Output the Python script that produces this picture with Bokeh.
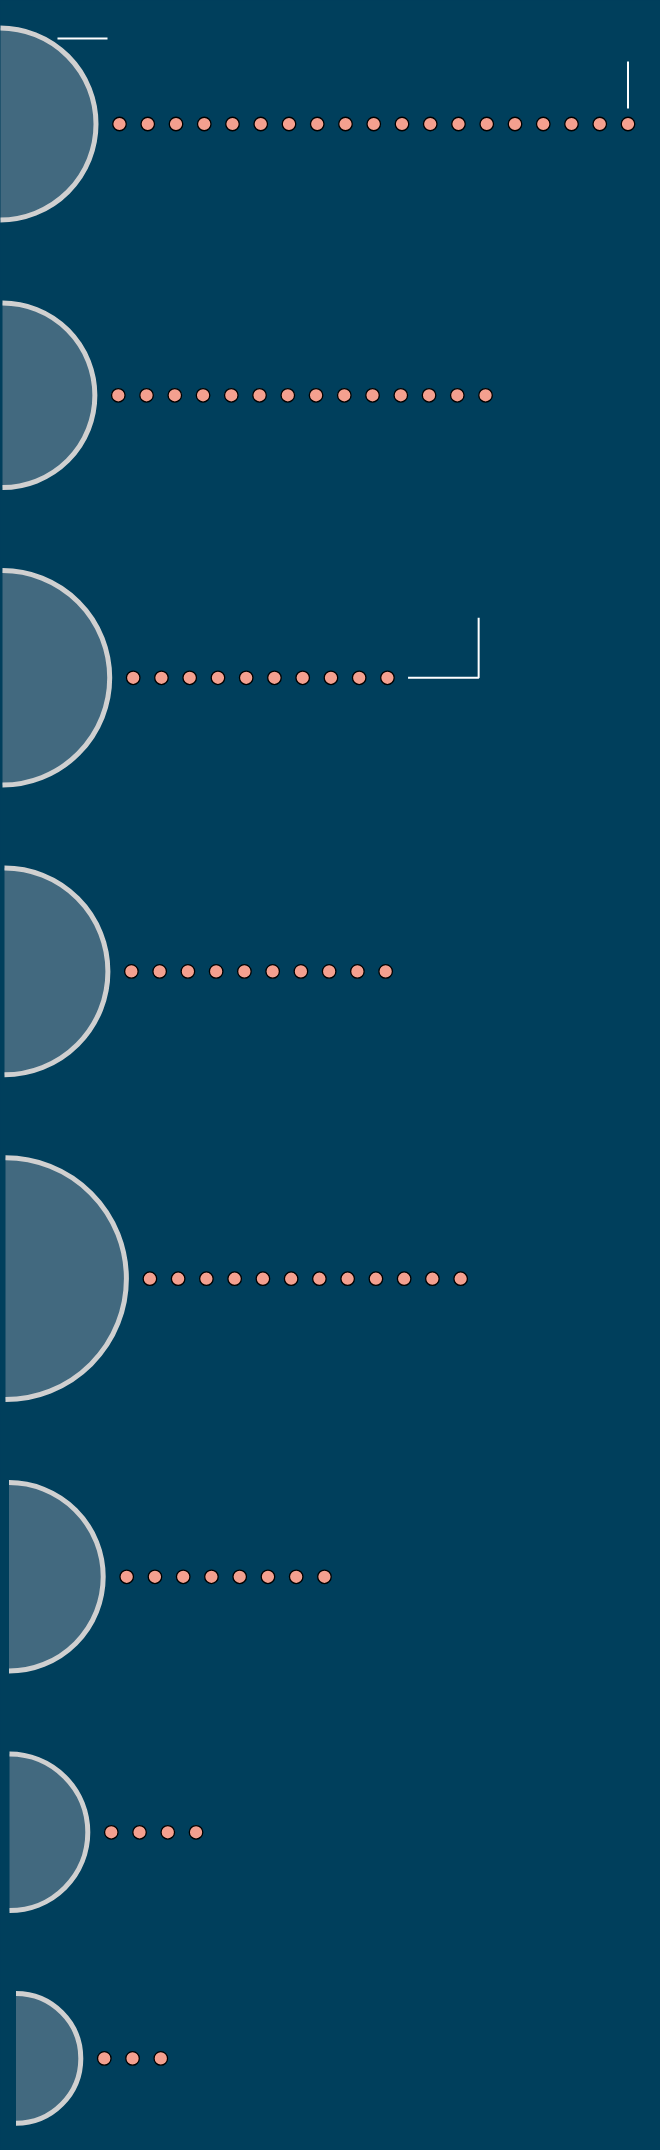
import numpy as np
from bokeh.plotting import figure
from bokeh.models import ColumnDataSource, Range1d, GlobalInlineStyleSheet
from bokeh.embed import file_html
from bokeh.resources import INLINE

# ---- data ----
categories = ["A", "B", "C", "D", "E", "F", "G", "H"]
dot_counts = [19, 14, 10, 10, 12, 8, 4, 3]
circle_values = [96.0, 92.3, 107.2, 103.4, 120.9, 94.2, 78.3, 64.8]
circle_offsets = [-0.5, 2.0, 2.0, 4.0, 5.0, 8.5, 9.0, 15.5]

# ---- style / layout ----
W, H = 660, 2150
BG = "#003f5c"
HALF_FILL = "#42697f"
ARC_COLOR = "#d0d0d0"
DOT_FILL = "#f4a08f"
STROKE = 5
TOP = 25
GAP = 78
DOT_GAP = 21
DOT_STEP = 28.25

cx, cy, rr = [], [], []
dx, dy = [], []
last_dot = []
ytop = TOP
for cat, n, v, off in zip(categories, dot_counts, circle_values, circle_offsets):
    ro = v + STROKE / 2
    c_y = ytop + ro
    cx.append(off)
    cy.append(c_y)
    rr.append(v)
    x0 = off + ro + DOT_GAP
    xs = [x0 + k * DOT_STEP for k in range(n)]
    dx.extend(xs)
    dy.extend([c_y] * n)
    last_dot.append(xs[-1])
    ytop += 2 * ro + GAP

halves = ColumnDataSource(dict(x=cx, y=cy, r=rr, cat=categories))
dots = ColumnDataSource(dict(x=dx, y=dy))

p = figure(width=W, height=H, x_range=Range1d(0, W), y_range=Range1d(H, 0),
           toolbar_location=None, output_backend="svg", min_border=0,
           background_fill_color=BG, border_fill_color=BG, outline_line_color=None)
p.axis.visible = False
p.grid.visible = False
p.stylesheets = [GlobalInlineStyleSheet(css="html, body { margin: 0; padding: 0; background: #003f5c; }")]

p.wedge(x="x", y="y", radius="r", start_angle=-np.pi / 2, end_angle=np.pi / 2,
        fill_color=HALF_FILL, line_color=None, source=halves)
p.arc(x="x", y="y", radius="r", start_angle=-np.pi / 2, end_angle=np.pi / 2,
      line_color=ARC_COLOR, line_width=STROKE, source=halves)

p.scatter(x="x", y="y", size=13.5, fill_color=DOT_FILL, line_color="black",
          line_width=1.3, source=dots)

# leader lines (annotation connectors)
lx = [
    [last_dot[0], last_dot[0]],
    [cx[0] + 57.5, cx[0] + 107.5],
    [last_dot[2] + 20.6, last_dot[2] + 91.2, last_dot[2] + 91.2],
]
ly = [
    [cy[0] - 15.5, cy[0] - 62.5],
    [cy[0] - 85.5, cy[0] - 85.5],
    [cy[2], cy[2], cy[2] - 60],
]
p.multi_line(xs=lx, ys=ly, line_color="white", line_width=2)

open("out.html", "w").write(file_html(p, INLINE))
